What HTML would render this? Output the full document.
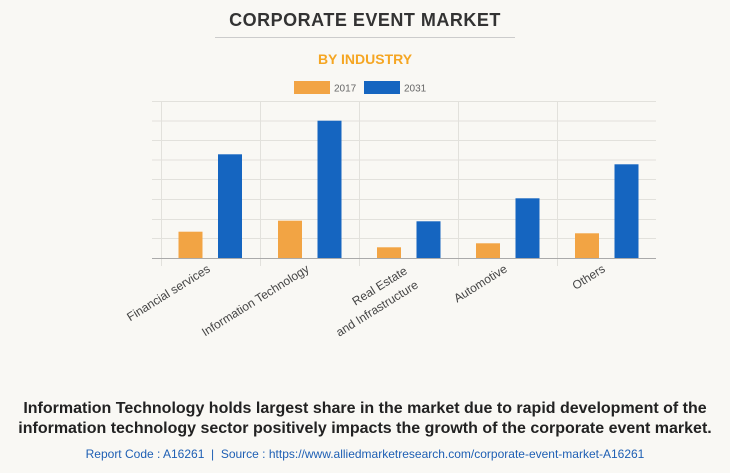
<!DOCTYPE html>
<html><head><style>
body{margin:0;width:730px;height:473px;background:#f9f8f4;font-family:"Liberation Sans",sans-serif;overflow:hidden;position:relative}
.t{position:absolute;left:0;width:730px;text-align:center}
</style></head><body>
<div class="t" style="top:10px;font-size:18px;font-weight:bold;color:#333;letter-spacing:0.5px">CORPORATE EVENT MARKET</div>
<div style="position:absolute;left:215px;top:37px;width:300px;height:1px;background:#ccc"></div>
<div class="t" style="top:51px;font-size:14px;font-weight:bold;color:#f5a623">BY INDUSTRY</div>
<svg style="position:absolute;left:0;top:0" width="730" height="473" font-family="Liberation Sans, sans-serif">
<rect x="294" y="81" width="36" height="13" fill="#f2a444"/>
<text x="334" y="91.5" font-size="10" fill="#666">2017</text>
<rect x="364" y="81" width="36" height="13" fill="#1565c0"/>
<text x="404" y="91.5" font-size="10" fill="#666">2031</text>
<g stroke="#e2e1dc" stroke-width="1">
<line x1="152" x2="656" y1="101.5" y2="101.5"/><line x1="152" x2="656" y1="121" y2="121"/>
<line x1="152" x2="656" y1="140.5" y2="140.5"/><line x1="152" x2="656" y1="160" y2="160"/>
<line x1="152" x2="656" y1="179.5" y2="179.5"/><line x1="152" x2="656" y1="199.5" y2="199.5"/>
<line x1="152" x2="656" y1="219.5" y2="219.5"/><line x1="152" x2="656" y1="238.5" y2="238.5"/>
<line x1="161.5" x2="161.5" y1="101" y2="266"/><line x1="260.5" x2="260.5" y1="101" y2="266"/>
<line x1="359.5" x2="359.5" y1="101" y2="266"/><line x1="458.5" x2="458.5" y1="101" y2="266"/>
<line x1="557.5" x2="557.5" y1="101" y2="266"/>
</g>
<line x1="152" x2="656" y1="258.5" y2="258.5" stroke="#aaa"/>
<g fill="#f2a444">
<rect x="178.5" y="231.7" width="24" height="26.3"/><rect x="278" y="220.7" width="24" height="37.3"/>
<rect x="377" y="247.3" width="24" height="10.7"/><rect x="476" y="243.3" width="24" height="14.7"/>
<rect x="575" y="233.3" width="24" height="24.7"/>
</g>
<g fill="#1565c0">
<rect x="218" y="154.3" width="24" height="103.7"/><rect x="317.5" y="120.7" width="24" height="137.3"/>
<rect x="416.5" y="221.3" width="24" height="36.7"/><rect x="515.5" y="198.3" width="24" height="59.7"/>
<rect x="614.5" y="164.3" width="24" height="93.7"/>
</g>
<g font-size="12" fill="#444" text-anchor="end">
<text transform="translate(211,271) rotate(-32)">Financial services</text>
<text transform="translate(310,271) rotate(-32)">Information Technology</text>
<text transform="translate(408,273) rotate(-32)">Real Estate</text>
<text transform="translate(419,287) rotate(-32)">and Infrastructure</text>
<text transform="translate(508,271) rotate(-32)">Automotive</text>
<text transform="translate(606,271) rotate(-32)">Others</text>
</g>
</svg>
<div class="t" style="top:399px;font-size:16px;font-weight:bold;color:#222;line-height:20px">Information Technology holds largest share in the market due to rapid development of the<br>information technology sector positively impacts the growth of the corporate event market.</div>
<div class="t" style="top:447px;font-size:12px;color:#1e5fb4">Report Code : A16261 &nbsp;|&nbsp; Source : https://www.alliedmarketresearch.com/corporate-event-market-A16261</div>
</body></html>
